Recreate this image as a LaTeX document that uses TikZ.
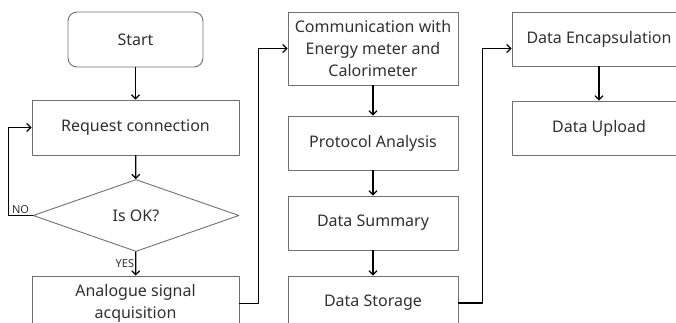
\documentclass[tikz,border=0pt]{standalone}
\usepackage{fontspec}
\setmainfont{Noto Sans}
\usetikzlibrary{arrows.meta,shapes.geometric}

\definecolor{boxline}{HTML}{707070}
\definecolor{boxtext}{HTML}{303030}

\tikzset{
  box/.style={draw=boxline,line width=0.9pt,rectangle,align=center,text=boxtext,
    minimum width=207pt,minimum height=55pt,inner sep=2pt,
    font=\fontsize{16}{22}\selectfont},
  startbox/.style={box,rounded corners=9pt,minimum width=135pt},
  decision/.style={box,diamond,minimum width=206pt,minimum height=72pt},
  flowlabel/.style={text=boxtext,font=\fontsize{11}{13}\selectfont,inner sep=1pt},
}

\begin{document}
\begin{tikzpicture}[x=1pt,y=-1pt,line cap=round,line join=round,
    >={Straight Barb[length=4pt,width=8pt]},line width=1.2pt]
        \clip (0,0) rectangle (676,322);
        % first column: connection set-up
        \node[startbox] (start) at (135.5,39.5) {Start};
        \node[box] (request) at (135.5,127.5) {Request connection};
        \node[decision] (check) at (136,215.5) {Is OK?};
        \node[box] (acquire) at (135.5,303.5) {Analogue signal\\acquisition};
        % second column: meter data
        \node[box,minimum width=170pt,minimum height=73pt] (comm) at (373,48.5) {Communication with\\Energy meter and\\Calorimeter};
        \node[box,minimum width=170pt,minimum height=54pt] (protocol) at (373,143) {Protocol Analysis};
        \node[box,minimum width=170pt,minimum height=54pt] (summary) at (373,223) {Data Summary};
        \node[box,minimum width=170pt,minimum height=54pt] (storage) at (373,303) {Data Storage};
        % third column: upload
        \node[box,minimum width=174pt,minimum height=54pt] (encap) at (599,39) {Data Encapsulation};
        \node[box,minimum width=174pt,minimum height=54pt] (upload) at (599,128) {Data Upload};

        \draw[->] (start) -- (request);
        \draw[->] (request) -- (check);
        \draw[->] (check) -- (acquire) node[flowlabel,midway,left] {YES};
        \draw[->] (check.west) -- ++(-24,0) node[flowlabel,midway,above] {NO} |- (request.west);
        \draw[->] (acquire.east) -- ++(19,0) |- (comm.west);
        \draw[->] (comm) -- (protocol);
        \draw[->] (protocol) -- (summary);
        \draw[->] (summary) -- (storage);
        \draw[->] (storage.east) -- ++(24,0) |- (encap.west |- comm.west);
        \draw[->] (encap) -- (upload);
    \end{tikzpicture}
\end{document}
